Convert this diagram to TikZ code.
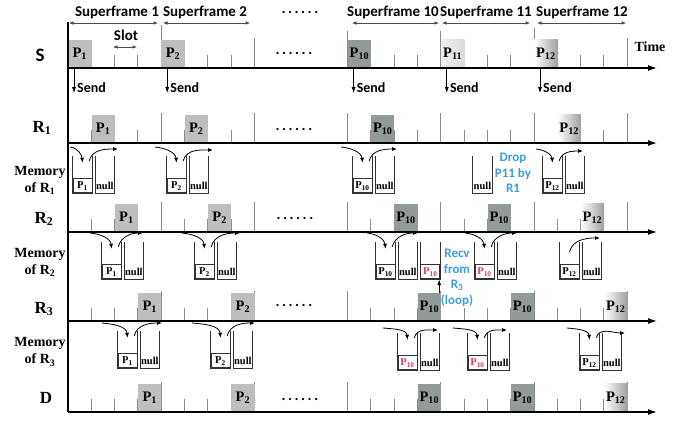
\documentclass[tikz,border=0pt]{standalone}
\usepackage{fontspec}
\setmainfont{Liberation Serif}
\newfontfamily\calfont{Carlito}
\usetikzlibrary{arrows.meta, positioning}
\definecolor{pkA}{HTML}{BEBEBE}
\definecolor{pkB}{HTML}{939B97}
\definecolor{pkC}{HTML}{DADADA}
\definecolor{pkRed}{HTML}{E2366C}
\definecolor{noteBlue}{HTML}{3E9BDD}
\definecolor{tickGray}{HTML}{8C8C8C}

\begin{document}
\begin{tikzpicture}[x=1pt, y=-1pt, >={Latex[length=5pt, width=4pt]}]
  \tikzset{hd/.style={font=\calfont\bfseries\fontsize{15}{16}\selectfont}}
  \tikzset{rowlbl/.style={font=\bfseries\fontsize{17}{18}\selectfont}}
  \tikzset{memlbl/.style={font=\bfseries\fontsize{14}{17}\selectfont, align=center}}
  \tikzset{note/.style={font=\calfont\bfseries\fontsize{13}{15.5}\selectfont, text=noteBlue, align=center}}
  \tikzset{sendlbl/.style={font=\calfont\bfseries\fontsize{14}{14}\selectfont, anchor=west, inner sep=0pt}}
  \tikzset{tick/.style={draw=tickGray, line width=0.9pt}}
  \tikzset{axis/.style={line width=1.3pt, -{Latex[length=9pt, width=6pt]}}}
  \tikzset{sfarr/.style={draw=black!70, line width=0.6pt, {Latex[length=4.5pt, width=3.5pt]}-{Latex[length=4.5pt, width=3.5pt]}}}
  \tikzset{sendarr/.style={line width=0.9pt, -{Latex[length=6pt, width=4pt]}}}
  \tikzset{inarr/.style={line width=0.8pt, ->}}
  \tikzset{outarr/.style={line width=0.8pt, ->}}
  \tikzset{pk/.style={minimum width=23.3pt, minimum height=28pt, inner sep=0pt, anchor=south west, fill=pkA, font=\bfseries\fontsize{14.5}{14}\selectfont}}
  \tikzset{pkdark/.style={pk, fill=pkB}}
  \tikzset{pklite/.style={pk, left color=pkC!40, right color=pkC}}
  \tikzset{pkfade/.style={pk, left color=white, right color=gray!75}}
  \tikzset{ubox/.style={draw=black!80, line width=0.8pt, line cap=rect}}
  \tikzset{buf/.style={minimum width=19pt, minimum height=36pt, inner sep=0pt,
    append after command={(\tikzlastnode.north west) edge[ubox] (\tikzlastnode.south west)
      (\tikzlastnode.south west) edge[ubox] (\tikzlastnode.south east)
      (\tikzlastnode.south east) edge[ubox] (\tikzlastnode.north east)}}}
  \tikzset{pkt/.style={draw=black!80, line width=0.8pt, minimum width=19pt, minimum height=14pt, inner sep=0pt, anchor=south, font=\bfseries\fontsize{10.5}{11}\selectfont}}
  \tikzset{nul/.style={pkt, draw=none}}
  \tikzset{pbuf/.style={buf, label={[pkt]south:#1}}}
  \tikzset{nbuf/.style={buf, label={[nul]south:null}}}
  \useasboundingbox (0,0) rectangle (696,421);

  % superframe header
  \node[hd] (hSF1) at (117,12) {Superframe 1};
  \node[hd] (hSF2) at (205,12) {Superframe 2};
  \node[hd] (hdots) at (300,12) {.\,.\,.\,.\,.\,.};
  \node[hd] (hSF10) at (393,12) {Superframe 10};
  \node[hd] (hSF11) at (486,12) {Superframe 11};
  \node[hd] (hSF12) at (582,12) {Superframe 12};
  \draw[sfarr] (69,23) -- (158,23);
  \draw[sfarr] (163,23) -- (250,23);
  \draw[sfarr] (352,23) -- (439,23);
  \draw[sfarr] (442,23) -- (530,23);
  \draw[sfarr] (537,23) -- (626,23);
  \node[hd] (slot) at (126,35) {Slot};
  \draw[sfarr] (113,47) -- (137,47);
  \node[font=\bfseries\fontsize{14}{14}\selectfont] (time) at (650,47) {Time};

  % ticks
  \foreach \y in {68,143,232,321,412} {
    \foreach \k in {1,...,6} \draw[tick] (68+93.2*\k,\y) -- ++(0,-30);
    \foreach \k in {0,1,3,4,5} \foreach \j in {1,2,3} \draw[tick] (68+93.2*\k+23.3*\j,\y) -- ++(0,-13);
  }
  \draw[tick] (161.2,38) -- (161.2,25);
  \draw[tick] (347.6,38) -- (347.6,31);
  \draw[tick] (440.8,38) -- (440.8,31);
  \draw[tick] (534,38) -- (534,28);

  % row labels
  \node[font=\calfont\bfseries\fontsize{19}{20}\selectfont] (lS) at (40,55) {S};
  \node[rowlbl] (lR1) at (42,128) {R\textsubscript{1}};
  \node[memlbl] (lM1) at (40,180) {Memory\\of R\textsubscript{1}};
  \node[rowlbl] (lR2) at (44,219) {R\textsubscript{2}};
  \node[memlbl] (lM2) at (40,262) {Memory\\of R\textsubscript{2}};
  \node[rowlbl] (lR3) at (44,309) {R\textsubscript{3}};
  \node[memlbl] (lM3) at (40,352) {Memory\\of R\textsubscript{3}};
  \node[rowlbl] (lD) at (46,398) {D};

  % S row
  \node[pk] (sP1) at (68,68) {P\textsubscript{1}};
  \node[pk] (sP2) at (161.2,68) {P\textsubscript{2}};
  \node[hd] (sdots) at (294,53) {.\,.\,.\,.\,.\,.};
  \node[pkdark] (sP10) at (347.6,68) {P\textsubscript{10}};
  \node[pklite] (sP11) at (440.8,68) {P\textsubscript{11}};
  \node[pkfade] (sP12) at (534,68) {P\textsubscript{12}};

  % R1 row
  \node[pk] (r1P1) at (91.3,143) {P\textsubscript{1}};
  \node[pk] (r1P2) at (184.5,143) {P\textsubscript{2}};
  \node[hd] (r1dots) at (294,129) {.\,.\,.\,.\,.\,.};
  \node[pkdark] (r1P10) at (370.9,143) {P\textsubscript{10}};
  \node[pkfade] (r1P12) at (557.3,143) {P\textsubscript{12}};

  % R2 row
  \node[pk] (r2P1) at (114.6,232) {P\textsubscript{1}};
  \node[pk] (r2P2) at (207.8,232) {P\textsubscript{2}};
  \node[hd] (r2dots) at (295,218) {.\,.\,.\,.\,.\,.};
  \node[pkdark] (r2P10) at (394.2,232) {P\textsubscript{10}};
  \node[pkdark] (r2P10b) at (487.4,232) {P\textsubscript{10}};
  \node[pkfade] (r2P12) at (580.6,232) {P\textsubscript{12}};

  % R3 row
  \node[pk] (r3P1) at (137.9,321) {P\textsubscript{1}};
  \node[pk] (r3P2) at (231.1,321) {P\textsubscript{2}};
  \node[hd] (r3dots) at (294,305) {.\,.\,.\,.\,.\,.};
  \node[pkdark] (r3P10) at (417.5,321) {P\textsubscript{10}};
  \node[pkdark] (r3P10b) at (510.7,321) {P\textsubscript{10}};
  \node[pkfade] (r3P12) at (603.9,321) {P\textsubscript{12}};

  % D row
  \node[pk] (dP1) at (137.9,412) {P\textsubscript{1}};
  \node[pk] (dP2) at (231.1,412) {P\textsubscript{2}};
  \node[hd] (ddots) at (300,399) {.\,.\,.\,.\,.\,.};
  \node[pkdark] (dP10) at (417.5,412) {P\textsubscript{10}};
  \node[pkdark] (dP10b) at (510.7,412) {P\textsubscript{10}};
  \node[pkfade] (dP12) at (603.9,412) {P\textsubscript{12}};

  % axes
  \draw[line width=1.2pt] (68,22) -- (68,412);
  \foreach \y in {68,143,232,321,412} \draw[axis] (68,\y) -- (657,\y);

  % send
  \node[sendlbl] (snd1) at (77,88) {Send};
  \node[sendlbl] (snd2) at (170.2,88) {Send};
  \node[sendlbl] (snd10) at (356.6,88) {Send};
  \node[sendlbl] (snd11) at (449.8,88) {Send};
  \node[sendlbl] (snd12) at (543,88) {Send};
  \draw[sendarr] ([xshift=6pt]sP1.south west) -- ([xshift=6pt]sP1.south west |- snd1.south);
  \draw[sendarr] ([xshift=6pt]sP2.south west) -- ([xshift=6pt]sP2.south west |- snd2.south);
  \draw[sendarr] ([xshift=6pt]sP10.south west) -- ([xshift=6pt]sP10.south west |- snd10.south);
  \draw[sendarr] ([xshift=6pt]sP11.south west) -- ([xshift=6pt]sP11.south west |- snd11.south);
  \draw[sendarr] ([xshift=6pt]sP12.south west) -- ([xshift=6pt]sP12.south west |- snd12.south);

  % memory of R1
  \node[pbuf={P\textsubscript{1}}] (m1b1) at (82.5,175) {};
  \node[nbuf, right=3pt of m1b1] (m1n1) {};
  \node[pbuf={P\textsubscript{2}}] (m1b2) at (176.5,175) {};
  \node[nbuf, right=3pt of m1b2] (m1n2) {};
  \node[pbuf={P\textsubscript{10}}] (m1b10) at (362.5,175) {};
  \node[nbuf, right=3pt of m1b10] (m1n10) {};
  \node[nbuf] (m1n11) at (482.5,175) {};
  \node[note] (drop) at (513,173) {Drop\\P11 by\\R1};
  \node[pbuf={P\textsubscript{12}}] (m1b12) at (552.5,175) {};
  \node[nbuf, right=3pt of m1b12] (m1n12) {};
  \coordinate (m1i1) at (70,147);
  \coordinate (m1o1) at (118,149);
  \coordinate (m1i2) at (155,147);
  \coordinate (m1o2) at (213,150);
  \coordinate (m1i10) at (341,147);
  \coordinate (m1o10) at (397,149);
  \coordinate (m1i12) at (536,149);
  \coordinate (m1o12) at (583,151);
  \draw[inarr] (m1i1) to[out=-5, in=95] ([yshift=-6pt]m1b1.north);
  \draw[outarr] ([xshift=-3pt, yshift=-4pt]m1b1.north east) to[out=75, in=180] (m1o1);
  \draw[inarr] (m1i2) to[out=-5, in=95] ([yshift=-6pt]m1b2.north);
  \draw[outarr] ([xshift=-3pt, yshift=-4pt]m1b2.north east) to[out=75, in=180] (m1o2);
  \draw[inarr] (m1i10) to[out=-5, in=95] ([yshift=-6pt]m1b10.north);
  \draw[outarr] ([xshift=-3pt, yshift=-4pt]m1b10.north east) to[out=75, in=180] (m1o10);
  \draw[inarr] (m1i12) to[out=-5, in=95] ([yshift=-6pt]m1b12.north);
  \draw[outarr] ([xshift=-3pt, yshift=-4pt]m1b12.north east) to[out=75, in=180] (m1o12);

  % memory of R2
  \node[pbuf={P\textsubscript{1}}] (m2b1) at (111.5,261) {};
  \node[nbuf, right=3pt of m2b1] (m2n1) {};
  \node[pbuf={P\textsubscript{2}}] (m2b2) at (204.5,261) {};
  \node[nbuf, right=3pt of m2b2] (m2n2) {};
  \node[pbuf={P\textsubscript{10}}] (m2b10) at (385.5,261) {};
  \node[nbuf, right=3pt of m2b10] (m2n10) {};
  \node[pbuf={\color{pkRed}P\textsubscript{10}}, right=3pt of m2n10] (m2x10) {};
  \node[note] (recv) at (457,278) {Recv\\from\\R\textsubscript{3}\\(loop)};
  \node[pbuf={\color{pkRed}P\textsubscript{10}}] (m2b11) at (484.5,261) {};
  \node[nbuf, right=3pt of m2b11] (m2n11) {};
  \node[pbuf={P\textsubscript{12}}] (m2b12) at (569.5,261) {};
  \node[nbuf, right=3pt of m2b12] (m2n12) {};
  \coordinate (m2i1) at (90,233);
  \coordinate (m2o1) at (143,233);
  \coordinate (m2i2) at (182,233);
  \coordinate (m2o2) at (240,233);
  \coordinate (m2i10) at (367,233);
  \coordinate (m2o10) at (418,233);
  \coordinate (m2i11) at (465,233);
  \coordinate (m2o11) at (517,233);
  \coordinate (m2o12) at (600,238);
  \draw[inarr] (m2i1) to[out=-5, in=95] ([yshift=-6pt]m2b1.north);
  \draw[outarr] ([xshift=-3pt, yshift=-4pt]m2b1.north east) to[out=75, in=180] (m2o1);
  \draw[inarr] (m2i2) to[out=-5, in=95] ([yshift=-6pt]m2b2.north);
  \draw[outarr] ([xshift=-3pt, yshift=-4pt]m2b2.north east) to[out=75, in=180] (m2o2);
  \draw[inarr] (m2i10) to[out=-5, in=95] ([yshift=-6pt]m2b10.north);
  \draw[outarr] ([xshift=-3pt, yshift=-4pt]m2b10.north east) to[out=75, in=180] (m2o10);
  \draw[inarr] (m2i11) to[out=-5, in=95] ([yshift=-6pt]m2b11.north);
  \draw[outarr] ([xshift=-3pt, yshift=-4pt]m2b11.north east) to[out=75, in=180] (m2o11);
  \draw[outarr] ([yshift=-9pt]m2b12.north) to[out=75, in=180] (m2o12);
  \draw[sendarr] ([xshift=-2pt]r3P10.north east) -- ([xshift=-2pt]r3P10.north east |- m2x10.south);

  % memory of R3
  \node[pbuf={P\textsubscript{1}}] (m3b1) at (127.5,350) {};
  \node[nbuf, right=3pt of m3b1] (m3n1) {};
  \node[pbuf={P\textsubscript{2}}] (m3b2) at (220.5,350) {};
  \node[nbuf, right=3pt of m3b2] (m3n2) {};
  \node[pbuf={\color{pkRed}P\textsubscript{10}}] (m3b10) at (407.5,352) {};
  \node[nbuf, right=3pt of m3b10] (m3n10) {};
  \node[pbuf={\color{pkRed}P\textsubscript{10}}] (m3b11) at (477.5,352) {};
  \node[nbuf, right=3pt of m3b11] (m3n11) {};
  \node[pbuf={P\textsubscript{12}}] (m3b12) at (589.5,352) {};
  \node[nbuf, right=3pt of m3b12] (m3n12) {};
  \coordinate (m3i1) at (102,323);
  \coordinate (m3o1) at (162,323);
  \coordinate (m3i2) at (192,323);
  \coordinate (m3o2) at (255,323);
  \coordinate (m3i10) at (383,328);
  \coordinate (m3o10) at (438,330);
  \coordinate (m3i11) at (453,328);
  \coordinate (m3o11) at (507,330);
  \coordinate (m3i12) at (567,328);
  \coordinate (m3o12) at (625,333);
  \draw[inarr] (m3i1) to[out=-5, in=95] ([yshift=-6pt]m3b1.north);
  \draw[outarr] ([xshift=-3pt, yshift=-4pt]m3b1.north east) to[out=75, in=180] (m3o1);
  \draw[inarr] (m3i2) to[out=-5, in=95] ([yshift=-6pt]m3b2.north);
  \draw[outarr] ([xshift=-3pt, yshift=-4pt]m3b2.north east) to[out=75, in=180] (m3o2);
  \draw[inarr] (m3i10) to[out=-5, in=95] ([yshift=-6pt]m3b10.north);
  \draw[outarr] ([xshift=-3pt, yshift=-4pt]m3b10.north east) to[out=75, in=180] (m3o10);
  \draw[inarr] (m3i11) to[out=-5, in=95] ([yshift=-6pt]m3b11.north);
  \draw[outarr] ([xshift=-3pt, yshift=-4pt]m3b11.north east) to[out=75, in=180] (m3o11);
  \draw[inarr] (m3i12) to[out=-5, in=95] ([yshift=-6pt]m3b12.north);
  \draw[outarr] ([xshift=-3pt, yshift=-4pt]m3b12.north east) to[out=75, in=180] (m3o12);
\end{tikzpicture}
\end{document}
